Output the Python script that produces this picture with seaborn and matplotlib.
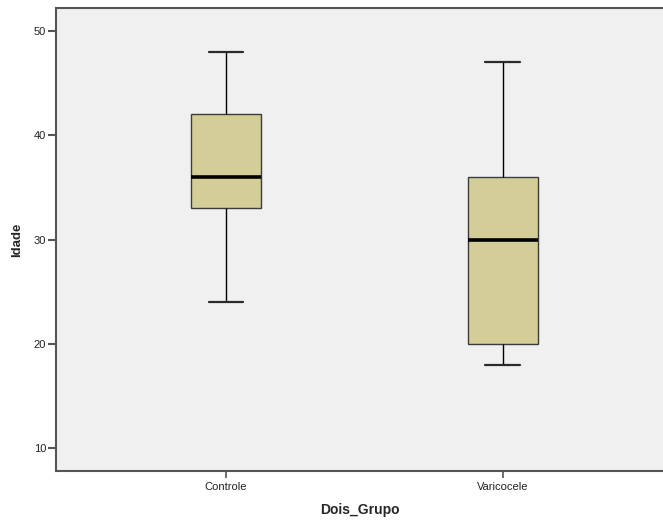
import matplotlib
matplotlib.use("Agg")
import matplotlib.pyplot as plt
import seaborn as sns
import pandas as pd

# Five-number summaries of age per group
controle_idade = [24, 33, 36, 42, 48]
varicocele_idade = [18, 20, 30, 36, 47]
grupos = ["Controle", "Varicocele"]
y_ticks = [10, 20, 30, 40, 50]

df = pd.DataFrame({
    "Dois_Grupo": [grupos[0]] * len(controle_idade) + [grupos[1]] * len(varicocele_idade),
    "Idade": controle_idade + varicocele_idade,
})

sns.set_theme(style="white")
plt.rcParams["font.family"] = ["Liberation Sans", "DejaVu Sans"]

fig = plt.figure(figsize=(6.63, 5.21), dpi=100)
ax = fig.add_axes([56 / 663, 1 - 471 / 521, 1 - 56 / 663, (471 - 8) / 521])
ax.set_facecolor("#f0f0f0")

sns.boxplot(
    data=df, x="Dois_Grupo", y="Idade", order=grupos, ax=ax,
    width=0.253, whis=1.5, color="#d3ce97", saturation=1,
    boxprops=dict(edgecolor="#3c3c3c", linewidth=1.0),
    whiskerprops=dict(color="black", linewidth=1.0),
    capprops=dict(color="#2a2a2a", linewidth=1.6),
    medianprops=dict(color="black", linewidth=2.6),
    showfliers=False,
)
for line in ax.lines:
    xd = line.get_xdata()
    # shrink caps to half the box width
    if len(xd) == 2 and xd[0] != xd[1] and abs(xd[1] - xd[0]) < 0.2:
        c = (xd[0] + xd[1]) / 2
        line.set_xdata([c - 0.063, c + 0.063])

ax.set_xlim(-0.614, 1.578)
ax.set_ylim(7.8, 52.2)
ax.set_yticks(y_ticks)
ax.set_yticklabels([str(t) for t in y_ticks])

for side in ["left", "bottom", "top"]:
    ax.spines[side].set_visible(True)
    ax.spines[side].set_color("#555555")
    ax.spines[side].set_linewidth(1.5)
ax.spines["right"].set_visible(False)

ax.tick_params(axis="y", left=True, length=6, width=1.5, color="#555555",
               labelsize=8, pad=1, labelcolor="#222222")
ax.tick_params(axis="x", bottom=True, length=5, width=1.2, color="#555555",
               labelsize=8, pad=3, labelcolor="#222222")

ax.set_xlabel("Dois_Grupo", fontsize=10, fontweight="bold", labelpad=8)
ax.set_ylabel("Idade", fontsize=9.5, fontweight="bold", labelpad=8)

fig.savefig("out.png", dpi=100)
